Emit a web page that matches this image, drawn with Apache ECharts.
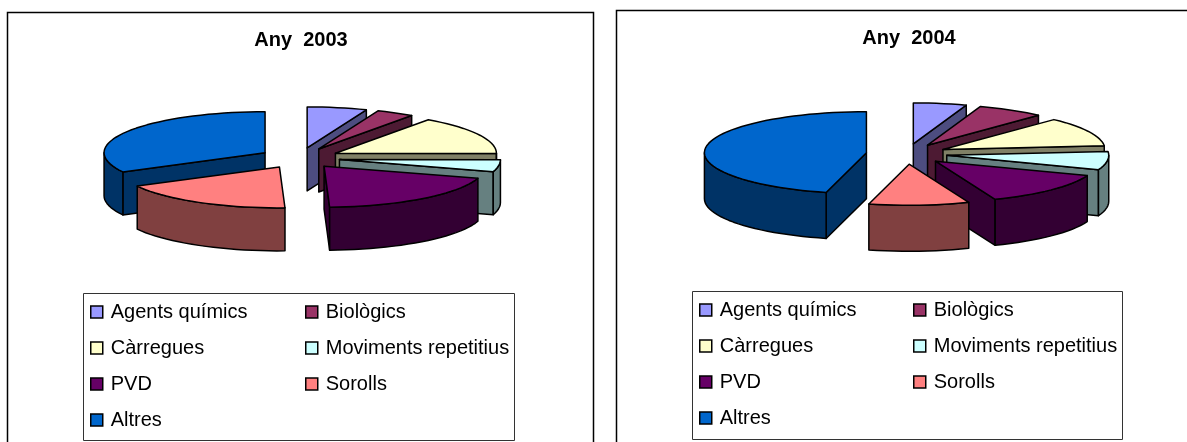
<!DOCTYPE html>
<html>
<head>
<meta charset="utf-8">
<title>Any 2003 / Any 2004</title>
<script src="https://cdn.jsdelivr.net/npm/echarts@6/dist/echarts.min.js"></script>
<style>
  html, body { margin: 0; padding: 0; background: #fff; }
  #main { width: 1187px; height: 442px; }
</style>
</head>
<body>
<div id="main"></div>
<script>
var categories = ['Agents químics', 'Biològics', 'Càrregues', 'Moviments repetitius', 'PVD', 'Sorolls', 'Altres'];
var values2003 = [6.0, 3.8, 15.3, 4.7, 19.7, 17.8, 32.8];
var values2004 = [5.3, 6.7, 11.5, 7.2, 13.3, 10.0, 46.0];
var colors = ['#9999FF', '#993366', '#FFFFCC', '#CCFFFF', '#660066', '#FF8080', '#0066CC'];
var wallColors = ['#4D4D80', '#4D1A33', '#808066', '#668080', '#330033', '#804040', '#003366'];
var leftColumn = ['Agents químics', 'Càrregues', 'PVD', 'Altres'];
var rightColumn = ['Biològics', 'Moviments repetitius', 'Sorolls'];

var FONT = '"Liberation Sans", Arial, sans-serif';

// one panel = one fake 3D exploded pie
var panels = [
  { title: 'Any  2003', values: values2003, cx: 299.6, cy: 158, rx: 161, ry: 41, depth: 43, explode: 40.3,
    titleX: 301, titleY: 28, frame: [7, 12, 586, 460], box: [83, 293, 431, 147],
    col1: 90, col2: 305, legendTop: 302 },
  { title: 'Any  2004', values: values2004, cx: 906.6, cy: 154, rx: 162, ry: 41, depth: 46, explode: 40.5,
    titleX: 909, titleY: 26, frame: [616, 10, 600, 460], box: [692, 291, 430, 148],
    col1: 699, col2: 913, legendTop: 300 }
];

function rad(d) { return d * Math.PI / 180; }

// clock angle, 0 = 12 o'clock, going clockwise
function rimPoint(p, ax, ay, deg, dy) {
  return [ax + p.rx * Math.sin(rad(deg)), ay - p.ry * Math.cos(rad(deg)) + (dy || 0)];
}

function arcPoints(p, ax, ay, from, to, dy) {
  var pts = [];
  var n = Math.max(2, Math.ceil((to - from) / 3));
  for (var i = 0; i <= n; i++) {
    pts.push(rimPoint(p, ax, ay, from + (to - from) * i / n, dy));
  }
  return pts;
}

function face(points, fill) {
  return {
    type: 'polygon',
    shape: { points: points },
    style: { fill: fill, stroke: '#000', lineWidth: 1.5, lineJoin: 'round' }
  };
}

function sliceRenderer(p, idx) {
  return function (params, api) {
    var a0 = api.value(0), a1 = api.value(1);
    var mid = (a0 + a1) / 2;
    var ax = p.cx + p.explode * Math.sin(rad(mid));
    var ay = p.cy - p.explode * (p.ry / p.rx) * Math.cos(rad(mid));
    var apex = [ax, ay], apexLow = [ax, ay + p.depth];
    var wall = wallColors[idx];
    var children = [];

    // cut faces, only the ones turned towards the viewer
    if (Math.sin(rad(a0)) < -0.001) {
      children.push(face([apex, rimPoint(p, ax, ay, a0), rimPoint(p, ax, ay, a0, p.depth), apexLow], wall));
    }
    if (Math.sin(rad(a1)) > 0.001) {
      children.push(face([apex, rimPoint(p, ax, ay, a1), rimPoint(p, ax, ay, a1, p.depth), apexLow], wall));
    }
    // outer wall, front half only
    var from = Math.max(a0, 90), to = Math.min(a1, 270);
    if (to > from) {
      var upper = arcPoints(p, ax, ay, from, to, 0);
      var lower = arcPoints(p, ax, ay, from, to, p.depth).reverse();
      children.push(face(upper.concat(lower), wall));
    }
    // top
    children.push(face([apex].concat(arcPoints(p, ax, ay, a0, a1, 0)), colors[idx]));
    return { type: 'group', children: children };
  };
}

function buildSeries(p) {
  var total = p.values.reduce(function (s, v) { return s + v; }, 0);
  var acc = 0;
  var slices = p.values.map(function (v, i) {
    var a0 = acc / total * 360;
    acc += v;
    return { idx: i, a0: a0, a1: acc / total * 360 };
  });
  // back slices are painted first
  slices.sort(function (a, b) {
    return Math.cos(rad((b.a0 + b.a1) / 2)) - Math.cos(rad((a.a0 + a.a1) / 2));
  });
  return slices.map(function (s) {
    return {
      type: 'custom',
      name: categories[s.idx],
      coordinateSystem: 'none',
      silent: true,
      itemStyle: { color: colors[s.idx] },
      renderItem: sliceRenderer(p, s.idx),
      data: [[s.a0, s.a1]]
    };
  });
}

function buildLegend(names, left, top) {
  return {
    data: names,
    orient: 'vertical',
    left: left,
    top: top,
    padding: 0,
    itemWidth: 12,
    itemHeight: 12,
    itemGap: 16,
    icon: 'rect',
    selectedMode: false,
    itemStyle: { borderColor: '#000', borderWidth: 1.5 },
    textStyle: { fontFamily: FONT, fontSize: 20, color: '#000', lineHeight: 20, padding: [0, 0, 0, 3] }
  };
}

var series = [], legends = [], titles = [], frames = [];
panels.forEach(function (p) {
  series = series.concat(buildSeries(p));
  legends.push(buildLegend(leftColumn, p.col1, p.legendTop));
  legends.push(buildLegend(rightColumn, p.col2, p.legendTop));
  titles.push({
    text: p.title,
    left: p.titleX,
    top: p.titleY,
    textAlign: 'center',
    padding: 0,
    textStyle: { fontFamily: FONT, fontSize: 20, fontWeight: 'bold', color: '#000', lineHeight: 24 }
  });
  frames.push({
    type: 'rect',
    silent: true,
    z: -1,
    shape: { x: p.frame[0] + 0.5, y: p.frame[1] + 0.5, width: p.frame[2], height: p.frame[3] },
    style: { fill: '#fff', stroke: '#000', lineWidth: 1.5 }
  });
  frames.push({
    type: 'rect',
    silent: true,
    z: -1,
    shape: { x: p.box[0] + 0.5, y: p.box[1] + 0.5, width: p.box[2], height: p.box[3] },
    style: { fill: '#fff', stroke: '#333', lineWidth: 1 }
  });
});

var chart = echarts.init(document.getElementById('main'), null, { renderer: 'canvas' });
chart.setOption({
  animation: false,
  backgroundColor: '#fff',
  title: titles,
  legend: legends,
  tooltip: { show: false },
  graphic: { elements: frames },
  series: series
});
</script>
</body>
</html>
